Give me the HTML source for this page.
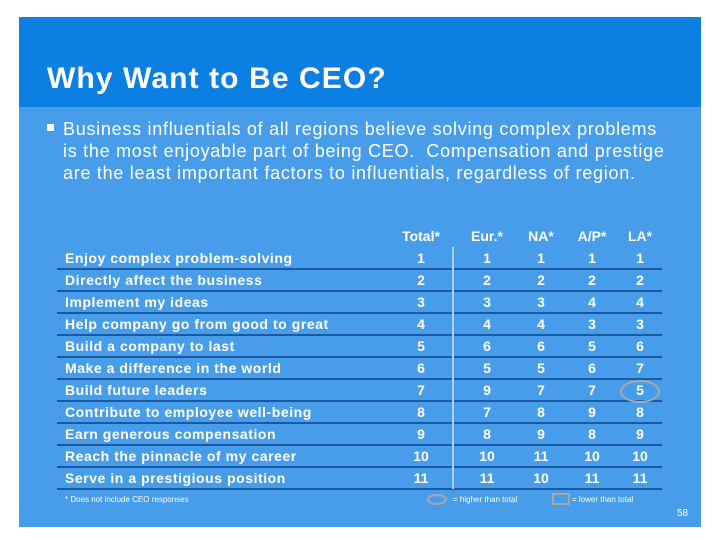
<!DOCTYPE html>
<html><head><meta charset="utf-8"><style>
body{margin:0;width:720px;height:540px;background:#fff;position:relative;overflow:hidden;font-family:"Liberation Sans",Arial,sans-serif;color:#fff}
.panel{position:absolute;left:19px;top:17px;width:682px;height:510px;background:#479de9}
.head{position:absolute;left:19px;top:17px;width:682px;height:90px;background:#0b7fe2}
.title{position:absolute;left:47px;top:62px;font-size:30px;font-weight:bold;letter-spacing:1.1px}
.bul{position:absolute;left:63px;top:118px;font-size:18px;line-height:22px;width:650px;letter-spacing:0.72px}
.sq{position:absolute;left:47px;top:124px;width:7px;height:7px;background:#fff}
.t{position:absolute;font-size:14px;font-weight:bold;white-space:nowrap}
.lab{letter-spacing:0.55px}
.c{text-align:center;width:50px;margin-left:-25px}
.ln{position:absolute;left:57px;width:605px;height:1.5px;background:#1a5aa3}
</style></head><body>
<div class="panel"></div>
<div class="head"></div>
<div class="title">Why Want to Be CEO?</div>
<div class="sq"></div>
<div class="bul">Business influentials of all regions believe solving complex problems<br>is the most enjoyable part of being CEO.&nbsp; Compensation and prestige<br>are the least important factors to influentials, regardless of region.</div>
<div id="tbl"></div>
<div style="position:absolute;left:452px;top:247px;width:2px;height:242px;background:#a9d0f5"></div>
<div style="position:absolute;left:620px;top:380px;width:36px;height:19px;border:2.5px solid #a8a8a8;border-radius:50%"></div>
<div class="t" style="left:65px;top:495px;font-size:8px;font-weight:normal">* Does not include CEO responses</div>
<div style="position:absolute;left:427px;top:494px;width:16px;height:7px;border:2.5px solid #a8a8a8;border-radius:50%"></div>
<div class="t" style="left:453px;top:495px;font-size:8px;font-weight:normal">= higher than total</div>
<div style="position:absolute;left:552px;top:493px;width:14px;height:8px;border:2px solid #a8a8a8"></div>
<div class="t" style="left:572px;top:495px;font-size:8px;font-weight:normal">= lower than total</div>
<div class="t" style="left:677px;top:508px;font-size:10px;font-weight:normal">58</div>
<script>
const headers=["Total*","Eur.*","NA*","A/P*","LA*"];
const labels=["Enjoy complex problem-solving","Directly affect the business","Implement my ideas","Help company go from good to great","Build a company to last","Make a difference in the world","Build future leaders","Contribute to employee well-being","Earn generous compensation","Reach the pinnacle of my career","Serve in a prestigious position"];
const total=[1,2,3,4,5,6,7,8,9,10,11];
const eur=[1,2,3,4,6,5,9,7,8,10,11];
const na=[1,2,3,4,6,5,7,8,9,11,10];
const ap=[1,2,4,3,5,6,7,9,8,10,11];
const la=[1,2,4,3,6,7,5,8,9,10,11];
const cols=[total,eur,na,ap,la];
const cx=[421,487,541,592,640];
const tb=document.getElementById('tbl');
function add(txt,x,y,cls,name){const d=document.createElement('div');d.className=cls;d.style.left=x+'px';d.style.top=y+'px';d.textContent=txt;


tb.appendChild(d);}
headers.forEach((h,j)=>add(h,cx[j],228,'t c','column-header'));
labels.forEach((l,i)=>{const y=250+i*22;
add(l,65,y,'t lab','row-label');
cols.forEach((c,j)=>add(c[i],cx[j],y,'t c','rank-cell'));
const ln=document.createElement('div');ln.className='ln';ln.style.top=(268+i*22)+'px';


tb.appendChild(ln);});
</script>
</body></html>
